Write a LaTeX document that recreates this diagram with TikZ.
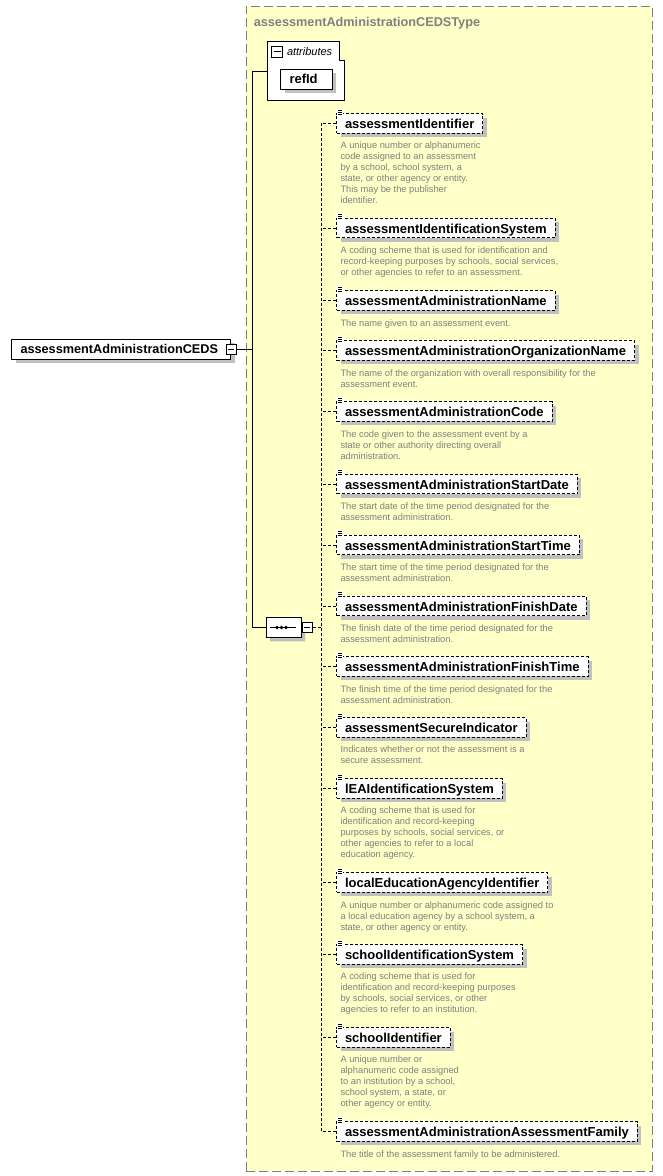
\documentclass[tikz,border=0pt]{standalone}
\usepackage{fontspec}
\setmainfont{Liberation Sans}
\usetikzlibrary{shapes.misc,shadows,calc}
\definecolor{bgyellow}{RGB}{255,255,200}
\definecolor{shadowgray}{RGB}{192,192,192}
\definecolor{txtgray}{RGB}{128,128,128}
\definecolor{bordergray}{RGB}{128,128,128}
\newcommand\desctab[1]{\begin{tabular}[t]{@{}l@{}}#1\end{tabular}}
\newcommand\xelem[4]{%
  \node[elemst] (#1) at (336,#3) {#2};
  \fill[white] ($(#1.north west)+(0.5,-4.5)$) rectangle ($(#1.north west)+(7,1.5)$);
  \foreach \yy in {-3,-1,1}{\draw[line width=0.8pt] ($(#1.north west)+(1.5,\yy)$) -- +(4.5,0);}
  \draw[dashline] (#1.west) -- (#1.west -| spine);
  \node[descst] (#1-d) at (340,{#3+25.5}) {\desctab{#4}};
}
\begin{document}
\begin{tikzpicture}[x=1pt,y=-1pt,line width=1pt,
  shadowed/.style={drop shadow={shadow xshift=4pt,shadow yshift=-4pt,fill=shadowgray,opacity=1}},
  dashline/.style={dash pattern=on 3pt off 2pt},
  elemst/.style={draw,dashline,fill=white,shadowed,font=\fontsize{13}{15}\selectfont\bfseries,
    text height=14.75pt,text depth=4.75pt,inner ysep=0pt,inner xsep=8.5pt,anchor=west},
  descst/.style={anchor=base west,inner sep=0pt,text=txtgray,font=\fontsize{9.3}{11}\selectfont},
  minusst/.style={draw,fill=white,minimum size=10pt,inner sep=0pt},
  solidbox/.style={draw,fill=white,shadowed,font=\fontsize{13}{15}\selectfont\bfseries,
    inner ysep=0pt,inner xsep=9pt,align=left,anchor=west}
]
\useasboundingbox (0,0) rectangle (662,1176);
% complex type container
\node[draw=bordergray,dash pattern=on 9pt off 4pt,line width=1.3pt,fill=bgyellow,
  minimum width=406pt,minimum height=1165pt,anchor=north west,inner sep=0pt] (typebox) at (245.5,5.5) {};
\node[anchor=base west,inner sep=0pt,text=txtgray,font=\fontsize{12.7}{15}\selectfont\bfseries] (title) at (253.3,26) {assessmentAdministrationCEDSType};
\coordinate (trunk) at (252,0);
\coordinate (spine) at (321,0);
\coordinate (attrin) at (267,71);
% root element
\node[solidbox,text width=201pt,text height=14pt,text depth=6pt,font=\fontsize{12.7}{15}\selectfont\bfseries] (root) at (11,349.3) {assessmentAdministrationCEDS};
\node[minusst] (rootminus) at (root.east) {\rule[-0.5pt]{6pt}{1pt}};
% attributes group
\draw[fill=white] (267,41) -- (339,41) -- (339,60) -- (344,60) -- (344,100) -- (267,100) -- cycle;
\node[minusst,minimum size=11pt] (attrminus) at (277,51.5) {\rule[-0.5pt]{7pt}{1pt}};
\node[anchor=base west,inner sep=0pt,font=\fontsize{11}{13}\selectfont\itshape] (attrlabel) at (286.5,55) {attributes};
\node[solidbox,text width=33.7pt,text height=14.3pt,text depth=5.7pt] (refid) at (280,79) {refId};
% sequence compositor
\node[chamfered rectangle,chamfered rectangle xsep=5pt,chamfered rectangle ysep=5pt,draw,fill=white,shadowed,
  minimum width=35pt,minimum height=19.5pt,inner sep=0pt] (seq) at (283.5,627.5) {};
\draw ($(seq.center)+(-13.5,0)$) -- ($(seq.center)+(12,0)$);
\foreach \dx in {-6.5,-2,2.5}{\fill ($(seq.center)+(\dx,0)$) circle (1.9pt);}
\node[minusst,anchor=west] (seqminus) at (seq.east) {\rule[-0.5pt]{6pt}{1pt}};
% solid connectors
\draw (rootminus.east) -- (rootminus.east -| trunk);
\draw (attrin) -- (attrin -| trunk) -- (trunk |- seq.west) -- (seq.west);
\draw[dashline] (seqminus.east) -- (seqminus.east -| spine);
% children
\xelem{e1}{assessmentIdentifier}{123.3}{A unique number or alphanumeric\\code assigned to an assessment\\by a school, school system, a\\state, or other agency or entity.\\This may be the publisher\\identifier.}
\xelem{e2}{assessmentIdentificationSystem}{228}{A coding scheme that is used for identification and\\record-keeping purposes by schools, social services,\\or other agencies to refer to an assessment.}
\xelem{e3}{assessmentAdministrationName}{300.7}{The name given to an assessment event.}
\xelem{e4}{assessmentAdministrationOrganizationName}{350.7}{The name of the organization with overall responsibility for the\\assessment event.}
\xelem{e5}{assessmentAdministrationCode}{411.7}{The code given to the assessment event by a\\state or other authority directing overall\\administration.}
\xelem{e6}{assessmentAdministrationStartDate}{484}{The start date of the time period designated for the\\assessment administration.}
\xelem{e7}{assessmentAdministrationStartTime}{545}{The start time of the time period designated for the\\assessment administration.}
\xelem{e8}{assessmentAdministrationFinishDate}{606}{The finish date of the time period designated for the\\assessment administration.}
\xelem{e9}{assessmentAdministrationFinishTime}{666.7}{The finish time of the time period designated for the\\assessment administration.}
\xelem{e10}{assessmentSecureIndicator}{727.3}{Indicates whether or not the assessment is a\\secure assessment.}
\xelem{e11}{lEAIdentificationSystem}{788.3}{A coding scheme that is used for\\identification and record-keeping\\purposes by schools, social services, or\\other agencies to refer to a local\\education agency.}
\xelem{e12}{localEducationAgencyIdentifier}{882.7}{A unique number or alphanumeric code assigned to\\a local education agency by a school system, a\\state, or other agency or entity.}
\xelem{e13}{schoolIdentificationSystem}{954.3}{A coding scheme that is used for\\identification and record-keeping purposes\\by schools, social services, or other\\agencies to refer to an institution.}
\xelem{e14}{schoolIdentifier}{1037.3}{A unique number or\\alphanumeric code assigned\\to an institution by a school,\\school system, a state, or\\other agency or entity.}
\xelem{e15}{assessmentAdministrationAssessmentFamily}{1131.7}{The title of the assessment family to be administered.}
\draw[dashline] (spine |- e1.west) -- (spine |- e15.west);
\end{tikzpicture}
\end{document}
